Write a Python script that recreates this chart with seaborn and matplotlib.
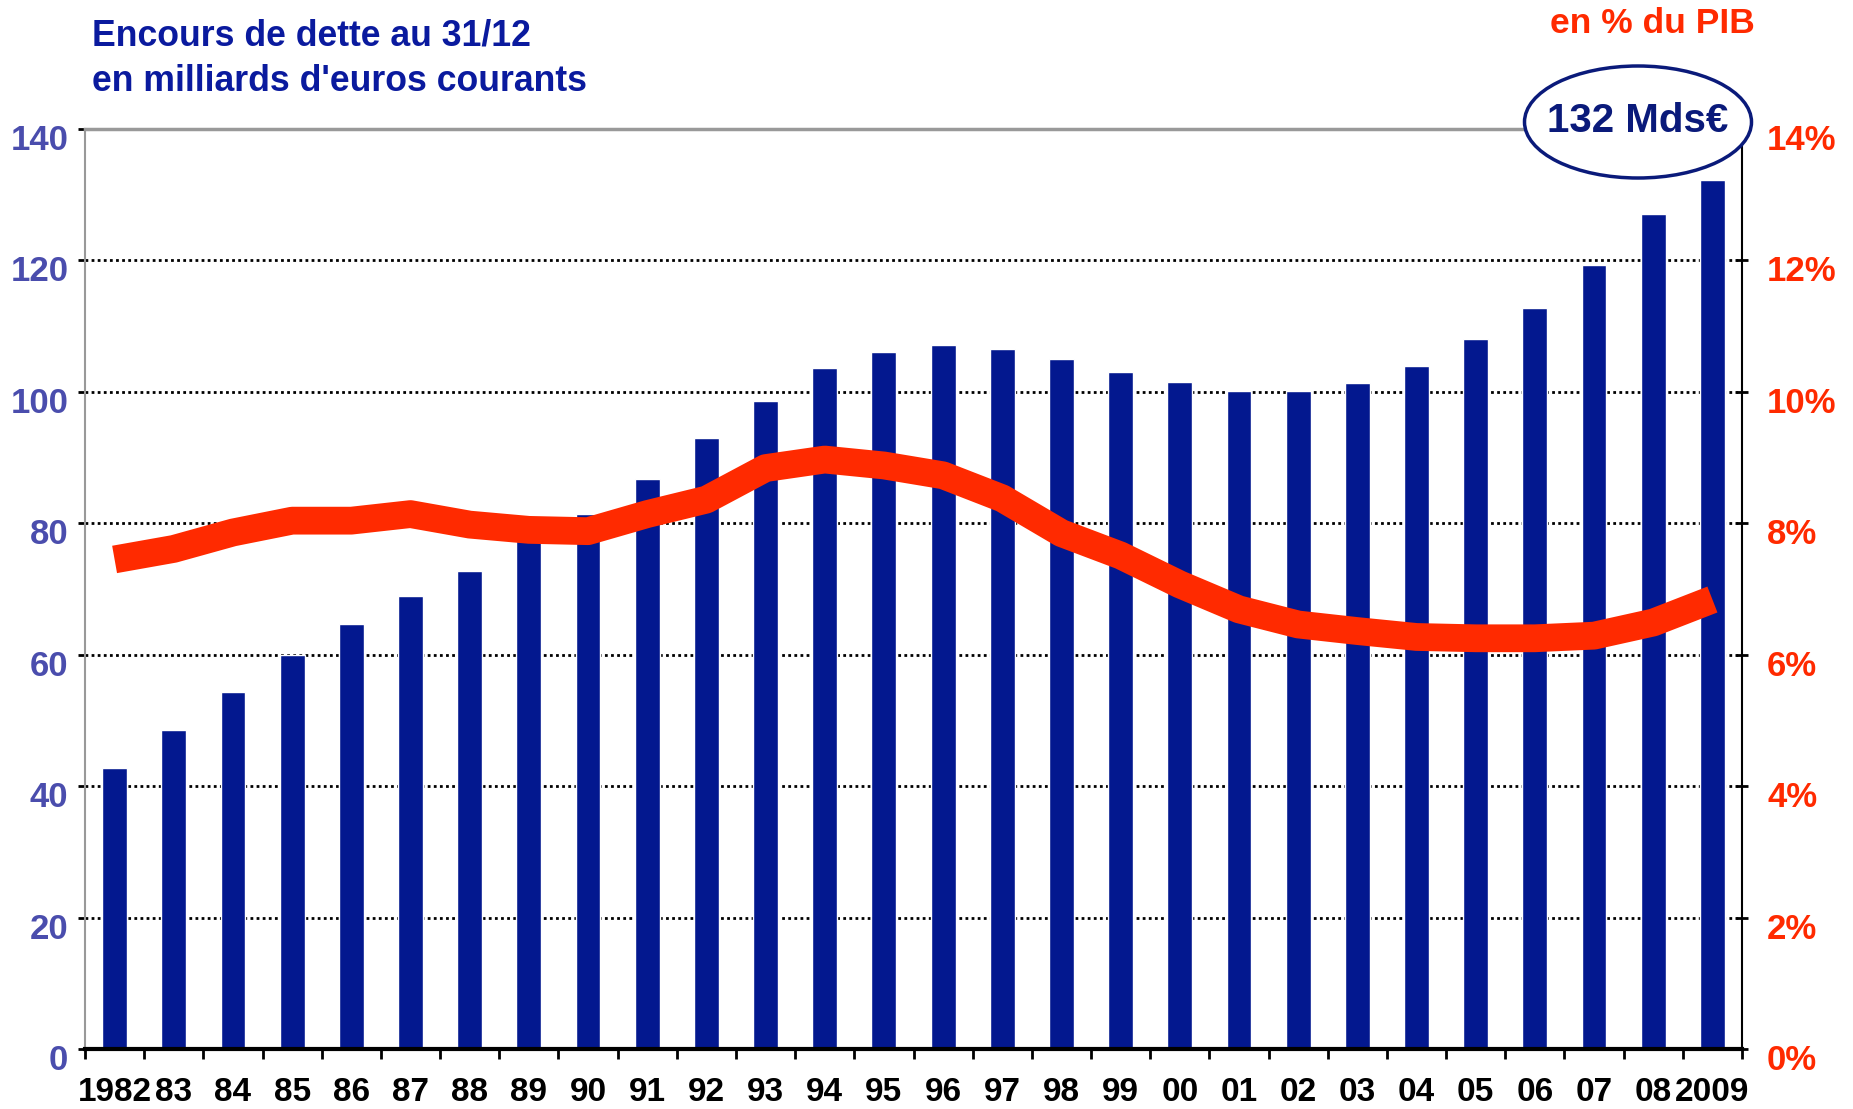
import numpy as np
import pandas as pd
import matplotlib.pyplot as plt
import matplotlib.transforms as mtransforms
from matplotlib.patches import Ellipse
import seaborn as sns

years = ['1982', '83', '84', '85', '86', '87', '88', '89', '90', '91', '92', '93', '94', '95',
         '96', '97', '98', '99', '00', '01', '02', '03', '04', '05', '06', '07', '08', '2009']
encours = [42.8, 48.5, 54.4, 59.9, 64.6, 68.9, 72.8, 77.5, 81.4, 86.7, 93.0, 98.6, 103.6, 106.0,
           107.2, 106.5, 105.0, 103.0, 101.5, 100.2, 100.2, 101.3, 103.9, 108.0, 112.7, 119.3, 127.0, 132.3]
pct_pib = [7.45, 7.61, 7.86, 8.04, 8.04, 8.14, 7.98, 7.90, 7.88, 8.14, 8.36, 8.84, 8.97, 8.88,
           8.73, 8.38, 7.85, 7.51, 7.07, 6.69, 6.46, 6.36, 6.27, 6.25, 6.25, 6.29, 6.49, 6.84]
left_ticks = [0, 20, 40, 60, 80, 100, 120, 140]
right_ticks = [0, 2, 4, 6, 8, 10, 12, 14]

df = pd.DataFrame({'annee': years, 'encours': encours, 'pct': pct_pib, 'pos': np.arange(len(years))})

sns.set_theme(style='white')
plt.rcParams['font.family'] = ['Liberation Sans', 'DejaVu Sans']

navy = '#03188F'
red = '#FF2A00'
muted_blue = '#4A4DAD'

fig = plt.figure(figsize=(18.53, 11.09), dpi=100)
ax = fig.add_axes([0.04587, 0.0541, 0.89423, 0.82958])

sns.barplot(data=df, x='annee', y='encours', color=navy, saturation=1, width=0.42, ax=ax, zorder=2)
ax.set_xlim(-0.5, 27.5)
ax.set_ylim(0, 140)
ax.set_xlabel('')
ax.set_ylabel('')

# dotted gridlines behind the bars
for v in left_ticks[1:-1]:
    ax.axhline(v, color='black', linestyle=(0, (1, 1.2)), lw=2, zorder=1)

ax.set_yticks(left_ticks)
ax.set_yticklabels([str(v) for v in left_ticks], fontweight='bold', fontsize=25)
ax.tick_params(axis='y', which='major', left=True, length=5, width=2, color='black',
               labelcolor=muted_blue, pad=7)

ax.set_xticks(range(len(years)))
ax.set_xticklabels(years, fontweight='bold', fontsize=24, color='black')
ax.set_xticks(np.arange(-0.5, 28, 1), minor=True)
ax.tick_params(axis='x', which='major', length=0, pad=20)
ax.tick_params(axis='x', which='minor', bottom=True, length=7, width=2, color='black')

ax.spines['left'].set_color('#999999')
ax.spines['left'].set_linewidth(1.5)
ax.spines['top'].set_color('#999999')
ax.spines['top'].set_linewidth(2.5)
ax.spines['top'].set_linestyle((0, (2, 1)))
ax.spines['bottom'].set_color('black')
ax.spines['bottom'].set_linewidth(3)
ax.spines['right'].set_visible(False)

ax2 = ax.twinx()
sns.lineplot(data=df, x='pos', y='pct', color=red, lw=20, ax=ax2,
             solid_capstyle='butt', solid_joinstyle='round')
ax2.set_ylim(0, 14)
ax2.set_xlim(-0.5, 27.5)
ax2.set_ylabel('')
ax2.set_yticks(right_ticks)
ax2.set_yticklabels([f'{v}%' for v in right_ticks], fontweight='bold', fontsize=25)
ax2.tick_params(axis='y', right=True, direction='inout', length=8, width=2, color='black',
                labelcolor=red, pad=14)
for s in ['top', 'left', 'bottom']:
    ax2.spines[s].set_visible(False)
ax2.spines['right'].set_color('black')
ax2.spines['right'].set_linewidth(1.5)

# tick labels sit a bit below their ticks
shift = mtransforms.ScaledTranslation(0, -8 / 100, fig.dpi_scale_trans)
for lab in ax.get_yticklabels() + ax2.get_yticklabels():
    lab.set_transform(lab.get_transform() + shift)

fig.text(92 / 1853, 1 - 46 / 1109, 'Encours de dette au 31/12', color='#0A1A9E',
         fontsize=25.7, fontweight='bold', va='baseline', ha='left')
fig.text(92 / 1853, 1 - 91 / 1109, "en milliards d'euros courants", color='#0A1A9E',
         fontsize=25.7, fontweight='bold', va='baseline', ha='left')
fig.text(1652 / 1853, 1 - 33 / 1109, 'en % du PIB', color=red,
         fontsize=25.5, fontweight='bold', va='baseline', ha='center')

ell = Ellipse((1638 / 1853, 1 - 122 / 1109), 227 / 1853, 112 / 1109, transform=fig.transFigure,
              facecolor='white', edgecolor='#0A1A7A', lw=2.5, zorder=10)
fig.add_artist(ell)
fig.text(1638 / 1853, 1 - 121 / 1109, '132 Mds€', color='#0A1A7A', fontsize=29,
         fontweight='bold', ha='center', va='center', zorder=11)

fig.savefig('out.png', dpi=100)
